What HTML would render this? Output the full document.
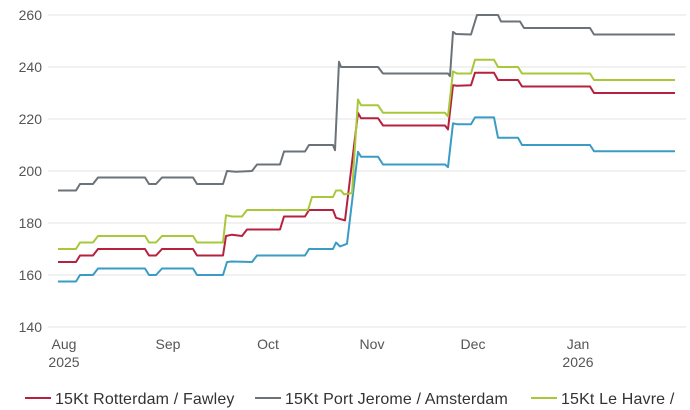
<!DOCTYPE html>
<html><head><meta charset="utf-8"><style>
body{margin:0;background:#fff;}
svg{display:block;font-family:"Liberation Sans",sans-serif;}
</style></head><body>
<svg width="690" height="410" viewBox="0 0 690 410" xmlns="http://www.w3.org/2000/svg">
<g stroke="#e3e3e3" stroke-width="1">
<line x1="48" x2="686" y1="15" y2="15"/><line x1="48" x2="686" y1="67" y2="67"/>
<line x1="48" x2="686" y1="119" y2="119"/><line x1="48" x2="686" y1="171" y2="171"/>
<line x1="48" x2="686" y1="223" y2="223"/><line x1="48" x2="686" y1="275" y2="275"/>
<line x1="48" x2="686" y1="327" y2="327"/>
</g>
<g fill="#555" font-size="14" text-anchor="end">
<text x="42" y="20">260</text><text x="42" y="72">240</text><text x="42" y="124">220</text>
<text x="42" y="176">200</text><text x="42" y="228">180</text><text x="42" y="280">160</text><text x="42" y="332">140</text>
</g>
<g fill="#555" font-size="14" text-anchor="middle">
<text x="64" y="349">Aug</text><text x="64" y="367">2025</text>
<text x="168" y="349">Sep</text><text x="268" y="349">Oct</text><text x="372" y="349">Nov</text>
<text x="473" y="349">Dec</text><text x="578" y="349">Jan</text><text x="578" y="367">2026</text>
</g>
<g fill="none" stroke-width="2" stroke-linejoin="round">
<polyline id="gray" stroke="#6b7378" points=""/>
<polyline id="blue" stroke="#3a9cc4" points=""/>
<polyline id="red" stroke="#b5213f" points=""/>
<polyline id="green" stroke="#a8c83a" points=""/>
</g>
<g font-size="16" fill="#333" letter-spacing="0.15">
<line x1="25" x2="51" y1="398" y2="398" stroke="#b5213f" stroke-width="2"/>
<text x="55" y="404">15Kt Rotterdam / Fawley</text>
<line x1="255" x2="281" y1="398" y2="398" stroke="#6b7378" stroke-width="2"/>
<text x="285" y="404">15Kt Port Jerome / Amsterdam</text>
<line x1="531" x2="557" y1="398" y2="398" stroke="#a8c83a" stroke-width="2"/>
<text x="561" y="404">15Kt Le Havre /</text>
</g>
<script>
function Y(v){return 15+(260-v)*2.6;}
function set(id,d){document.getElementById(id).setAttribute('points',d.map(p=>p[0]+','+Y(p[1]).toFixed(1)).join(' '));}
set('gray',[[58,192.5],[76,192.5],[80,195],[93,195],[98,197.5],[145,197.5],[149,195],[156,195],[162,197.5],[193,197.5],[197,195],[223,195],[227,200],[236,199.7],[252,200],[257,202.5],[280,202.5],[284,207.5],[305,207.5],[309,210],[333,210],[335,208],[339,242],[341,240],[378,240],[383,237.5],[448,237.5],[450,236.5],[453,253.5],[456,252.7],[471,252.5],[477,260],[498,260],[501,257.5],[520,257.5],[524,255],[590,255],[594,252.5],[675,252.5]]);
set('green',[[58,170],[76,170],[80,172.5],[93,172.5],[98,175],[145,175],[149,172.5],[156,172.5],[162,175],[193,175],[197,172.5],[223,172.5],[226,183],[232,182.5],[242,182.5],[247,185],[308,185],[312,190],[333,190],[336,192.5],[341,192.5],[344,191],[352,191.5],[358,227.5],[361,225.3],[378,225.3],[383,222.4],[445,222.4],[448,221],[453,238.3],[457,237.5],[471,237.5],[475,242.8],[494,242.8],[498,240],[518,240],[522,237.5],[590,237.5],[594,235],[675,235]]);
set('red',[[58,165],[76,165],[80,167.5],[93,167.5],[98,170],[145,170],[149,167.5],[156,167.5],[162,170],[193,170],[197,167.5],[223,167.5],[226,175],[232,175.5],[242,175],[247,177.5],[280,177.5],[284,182.5],[305,182.5],[309,185],[333,185],[336,182],[345,181],[358,222.3],[361,220.3],[378,220.3],[383,217.5],[445,217.5],[448,216],[453,233],[457,232.8],[471,233],[475,237.8],[494,237.8],[498,235],[518,235],[522,232.5],[590,232.5],[594,230],[675,230]]);
set('blue',[[58,157.5],[76,157.5],[80,160],[93,160],[98,162.5],[145,162.5],[149,160],[156,160],[162,162.5],[193,162.5],[197,160],[223,160],[227,165],[232,165.2],[252,165],[257,167.5],[305,167.5],[309,170],[333,170],[336,172.5],[340,171],[347,172],[358,207.4],[361,205.5],[378,205.5],[383,202.5],[445,202.5],[448,201.5],[453,218.3],[457,218],[471,218],[475,220.6],[494,220.6],[498,212.8],[518,212.8],[522,210],[590,210],[594,207.6],[675,207.6]]);
</script>
</svg>
</body></html>
